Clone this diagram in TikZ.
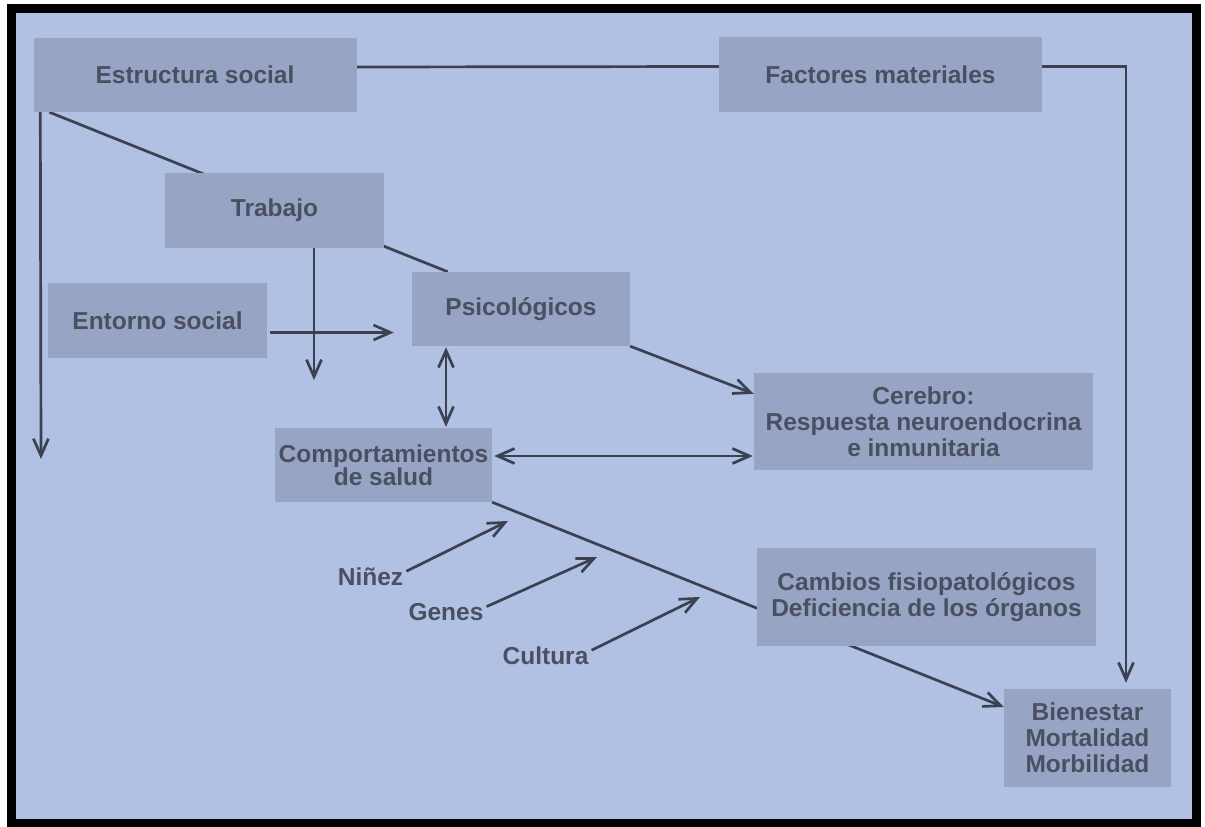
\documentclass[tikz,border=0pt]{standalone}
\usepackage{fontspec}
\setmainfont{Liberation Sans}
\usetikzlibrary{arrows.meta}

\definecolor{fondo}{HTML}{B0C1E4}
\definecolor{caja}{HTML}{97A4C4}
\definecolor{letra}{HTML}{4A5062}
\definecolor{linea}{HTML}{3C4152}

\pgfdeclarelayer{fondo}
\pgfdeclarelayer{lineas}
\pgfsetlayers{fondo,lineas,main}

\begin{document}
\begin{tikzpicture}[x=1pt,y=-1pt,>={Straight Barb[length=17pt,width=15pt]}]
\tikzstyle{box}=[
  rectangle,
  fill=caja,
  inner sep=0pt,
  align=center,
  text=letra,
  font=\bfseries\fontsize{24.5}{26}\selectfont ]
\tikzstyle{etiq}=[
  inner sep=1pt,
  text=letra,
  font=\bfseries\fontsize{24.5}{26}\selectfont ]
\tikzstyle{flecha}=[draw=linea, line width=2.7pt]
\useasboundingbox (0,0) rectangle (1205,827);
\begin{pgfonlayer}{fondo}
\fill[white] (0,0) rectangle (1205,827);
\fill[fondo] (11,8) rectangle (1196,823);
\draw[line width=9pt] (11.5,8) rectangle (1196.5,823.5);
\end{pgfonlayer}

\node[box, minimum width=323pt, minimum height=74pt] (es) at (195,75) {Estructura social};
\node[box, minimum width=323pt, minimum height=75pt] (fm) at (880.5,74.5) {Factores materiales};
\node[box, minimum width=219pt, minimum height=75pt] (trab) at (274.5,210.5) {Trabajo};
\node[box, minimum width=218pt, minimum height=74pt] (psic) at (521,309) {Psicológicos};
\node[box, minimum width=219pt, minimum height=75pt] (ent) at (157.5,320.5) {Entorno social};
\node[box, minimum width=217pt, minimum height=74pt,
  font=\bfseries\fontsize{24.5}{23}\selectfont] (comp) at (383.5,465) {Comportamientos\\de salud};
\node[box, minimum width=339pt, minimum height=97pt] (cer) at (923.5,421.5)
  {Cerebro:\\Respuesta neuroendocrina\\e inmunitaria};
\node[box, minimum width=339pt, minimum height=98pt] (camb) at (926.5,597)
  {Cambios fisiopatológicos\\Deficiencia de los órganos};
\node[box, minimum width=167pt, minimum height=98pt] (bien) at (1087.5,738)
  {Bienestar\\Mortalidad\\Morbilidad};

\node[etiq, anchor=base] (nin) at (370.5,585) {Niñez};
\node[etiq, anchor=base] (gen) at (446,620) {Genes};
\node[etiq, anchor=base] (cul) at (545.5,664) {Cultura};

\coordinate (esfin) at (41,459);
\coordinate (trabfin) at (314,380);
\coordinate (pc) at (446,0);
\coordinate (ninfin) at (508,521);
\coordinate (genfin) at (597,557);
\coordinate (culfin) at (700,597);

\begin{pgfonlayer}{lineas}
\draw[flecha] ([yshift=8pt]es.east) -- ([yshift=8pt]fm.west);
\draw[flecha,->,shorten >=6pt] ([yshift=8pt]fm.east) -| ([xshift=38.5pt]bien.north);
\draw[flecha,->] ([xshift=7pt]es.south west) -- (esfin);
\draw[flecha] ([xshift=16pt]es.south west) -- ([xshift=36pt]psic.north west);
\draw[flecha,->] ([xshift=39.5pt]trab.south) -- (trabfin);
\draw[flecha,->,shorten <=3pt,shorten >=18pt] ([yshift=-12pt]ent.east) -- ([yshift=-12pt]ent.east -| psic.west);
\draw[flecha,<->,shorten <=1pt,shorten >=1pt] (psic.south -| pc) -- (comp.north -| pc);
\draw[flecha,<->,shorten <=2pt,shorten >=1pt] ([yshift=9pt]comp.east) -- ([yshift=9pt]comp.east -| cer.west);
\draw[flecha,->] (psic.south east) -- ([yshift=-21pt]cer.north west);
\draw[flecha,->] (comp.south east) -- ([yshift=31pt]bien.west);
\draw[flecha,->] ([xshift=2pt,yshift=5pt]nin.east) -- (ninfin);
\draw[flecha,->] ([xshift=2pt,yshift=5pt]gen.east) -- (genfin);
\draw[flecha,->] ([xshift=2pt,yshift=5pt]cul.east) -- (culfin);
\end{pgfonlayer}
\end{tikzpicture}
\end{document}
